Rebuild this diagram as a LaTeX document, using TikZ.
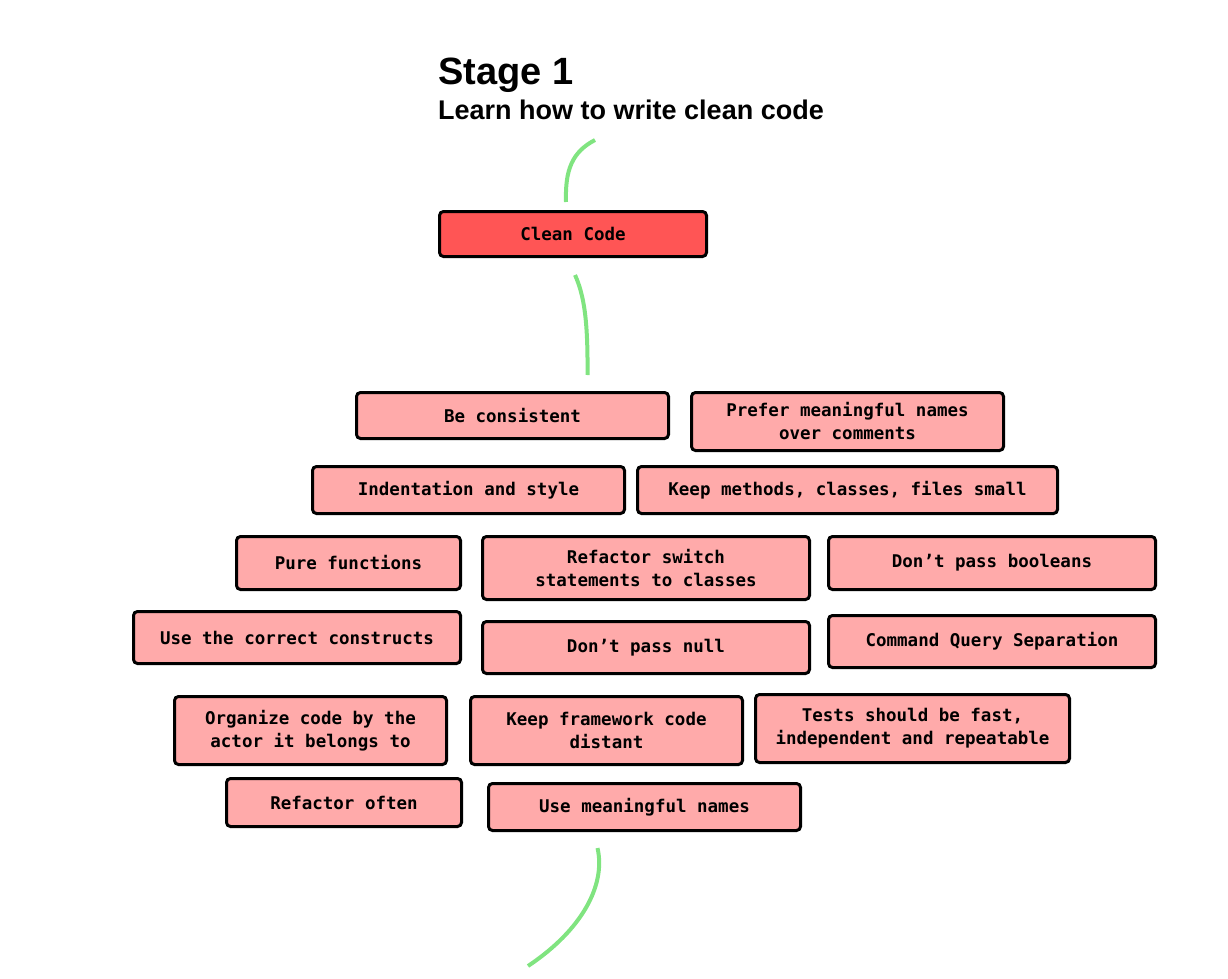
\documentclass[tikz,border=0pt]{standalone}
\usepackage{fontspec}
\setmainfont{Liberation Sans}
\newfontfamily\boxfont{DejaVu Sans Mono}
\usetikzlibrary{positioning}
\definecolor{stagered}{RGB}{255,85,85}
\definecolor{topicpink}{RGB}{255,170,170}
\definecolor{roadgreen}{RGB}{128,228,128}
\tikzset{
  stage/.style={rectangle, rounded corners=4pt, draw=black, line width=3pt, fill=stagered, font=\boxfont\bfseries\fontsize{17.5}{23}\selectfont, align=center},
  topic/.style={rectangle, rounded corners=4pt, draw=black, line width=3pt, fill=topicpink, font=\boxfont\bfseries\fontsize{17.5}{23}\selectfont, align=center},
  road/.style={draw=roadgreen, line width=4pt}
}

\begin{document}
\begin{tikzpicture}[x=1pt, y=-1pt]
\useasboundingbox (0,0) rectangle (1228,979);

% Title
\node[anchor=base west, inner sep=0pt, font=\bfseries\fontsize{38}{44}\selectfont] (title) at (438,85) {Stage 1};
\node[anchor=base west, inner sep=0pt, font=\bfseries\fontsize{27}{32}\selectfont] (subtitle) at (438,120) {Learn how to write clean code};

% Stage node
\node[stage, minimum width=267pt, minimum height=45pt] (clean) at (573,234) {Clean Code};

% Row 1
\node[topic, minimum width=312pt, minimum height=46pt] (consistent) at (512.5,415.5) {Be consistent};
\node[topic, minimum width=312pt, minimum height=58pt] (prefer) at (847.5,421.5) {Prefer meaningful names\\over comments};
% Row 2
\node[topic, minimum width=312pt, minimum height=47pt] (indent) at (468.5,490) {Indentation and style};
\node[topic, minimum width=420pt, minimum height=47pt] (small) at (847.5,490) {Keep methods, classes, files small};
% Row 3
\node[topic, minimum width=224pt, minimum height=53pt] (pure) at (348.5,563) {Pure functions};
\node[topic, minimum width=327pt, minimum height=63pt] (switch) at (646,568) {Refactor switch\\statements to classes};
\node[topic, minimum width=327pt, minimum height=53pt] (booleans) at (992,563) {Don’t pass booleans};
% Row 4
\node[topic, minimum width=327pt, minimum height=52pt] (constructs) at (297,637.5) {Use the correct constructs};
\node[topic, minimum width=327pt, minimum height=52pt] (null) at (646,647.5) {Don’t pass null};
\node[topic, minimum width=327pt, minimum height=52pt] (cqs) at (992,641.5) {Command Query Separation};
% Row 5
\node[topic, minimum width=272pt, minimum height=68pt] (organize) at (310.5,730.5) {Organize code by the\\actor it belongs to};
\node[topic, minimum width=272pt, minimum height=68pt] (framework) at (606.5,730.5) {Keep framework code\\distant};
\node[topic, minimum width=314pt, minimum height=68pt] (tests) at (912.5,728.5) {Tests should be fast,\\independent and repeatable};
% Row 6
\node[topic, minimum width=235pt, minimum height=48pt] (often) at (344,802.5) {Refactor often};
\node[topic, minimum width=312pt, minimum height=47pt] (meaningful) at (644.5,807) {Use meaningful names};

% Road
\coordinate (roadin) at (595,140);
\coordinate (roadout) at (528,966);
\draw[road] (roadin) .. controls (572,152) and (565,170) .. ([xshift=-7pt, yshift=8pt]clean.north);
\draw[road] ([xshift=2pt, yshift=-17pt]clean.south) .. controls (584,295) and (588,320) .. ([xshift=75pt, yshift=16pt]consistent.north);
\draw[road] ([xshift=-47pt, yshift=-16pt]meaningful.south) .. controls (606,885) and (582,930) .. (roadout);

\end{tikzpicture}
\end{document}
